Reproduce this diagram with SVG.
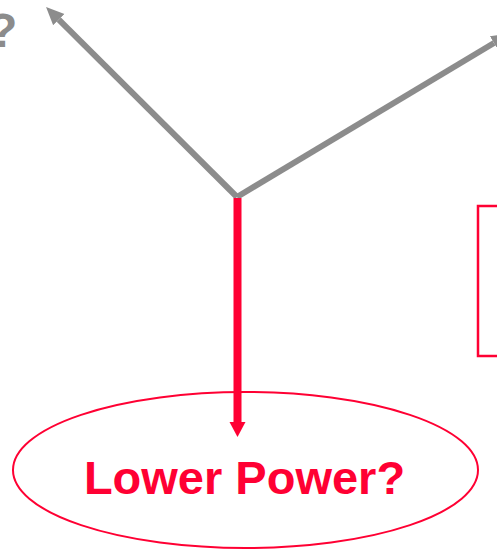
<svg xmlns="http://www.w3.org/2000/svg" width="497" height="550" viewBox="0 0 497 550">
  <style>
    .gray { stroke: #8c8c8c; stroke-width: 6; fill: none; }
    .red { stroke: #ff0033; fill: none; }
    .lbl { font-family: "Liberation Sans", Arial, sans-serif; font-weight: bold; }
  </style>
  <defs>
    <marker id="ahGray" markerUnits="userSpaceOnUse" viewBox="0 -9 20 18" markerWidth="20" markerHeight="18" refX="0" refY="0" orient="auto">
      <path d="M0,-8 L18,0 L0,8 z" fill="#8c8c8c"/>
    </marker>
    <marker id="ahRed" markerUnits="userSpaceOnUse" viewBox="0 -9 17 18" markerWidth="17" markerHeight="18" refX="0" refY="0" orient="auto">
      <path d="M0,-8 L15,0 L0,8 z" fill="#ff0033"/>
    </marker>
  </defs>
  <rect width="497" height="550" fill="#ffffff"/>

  <g id="label-left">
    <text class="lbl" x="-12" y="47" font-size="48" fill="#8c8c8c">?</text>
  </g>

  <g id="box-right">
    <rect class="red" x="478" y="206" width="40" height="150" stroke-width="2.5"/>
  </g>

  <g id="lower-power">
    <ellipse class="red" cx="245.5" cy="470" rx="232.5" ry="78" stroke-width="2"/>
    <text class="lbl" x="244.5" y="494" font-size="47" fill="#ff0033" text-anchor="middle">Lower Power?</text>
  </g>

  <g id="connectors">
    <line class="gray" x1="237" y1="197" x2="58.8" y2="19.7" marker-end="url(#ahGray)"/>
    <line class="gray" x1="237" y1="197" x2="494" y2="43" marker-end="url(#ahGray)"/>
    <line class="red" x1="237.5" y1="198" x2="237.5" y2="422" stroke-width="8" marker-end="url(#ahRed)"/>
  </g>
</svg>
